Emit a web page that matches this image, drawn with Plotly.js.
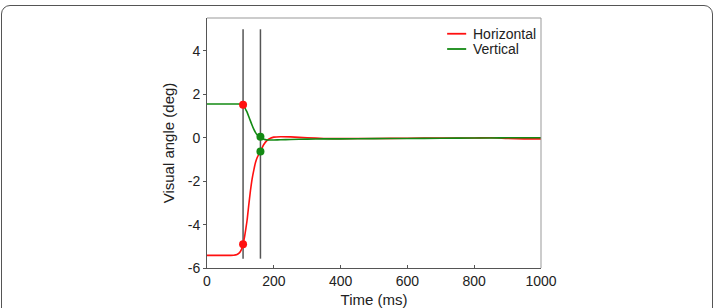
<!DOCTYPE html>
<html>
<head>
<meta charset="utf-8">
<script src="https://cdn.plot.ly/plotly-3.0.1.min.js"></script>
<style>
html,body{margin:0;padding:0;background:#fff;overflow:hidden;}
#wrap{position:relative;width:723px;height:308px;}
#chart{position:absolute;left:0;top:0;width:723px;height:308px;}
#frame{position:absolute;left:1px;top:5px;width:712px;height:330px;border:1px solid #555;border-radius:9px;pointer-events:none;box-sizing:border-box;}
</style>
</head>
<body>
<div id="wrap"><div id="chart"></div><div id="frame"></div></div>
<script>
// Time samples (ms)
var timeMs = [0, 50, 80, 90, 95, 100, 105, 108, 112, 116, 120, 125, 130, 135, 140, 145, 150, 155, 160, 165, 170, 180, 190, 200, 220, 250, 300, 350, 400, 500, 600, 700, 800, 850, 900, 950, 1000];
// Horizontal eye position (deg)
var horizontal = [-5.42, -5.42, -5.41, -5.38, -5.33, -5.24, -5.08, -4.9, -4.6, -4.22, -3.8, -3.1, -2.45, -1.9, -1.5, -1.15, -0.92, -0.76, -0.63, -0.46, -0.31, -0.12, -0.02, 0.03, 0.05, 0.04, 0.0, -0.03, -0.04, -0.03, -0.02, -0.01, -0.01, 0.0, -0.03, -0.05, -0.05];
// Vertical eye position (deg)
var vertical = [1.56, 1.56, 1.56, 1.56, 1.56, 1.55, 1.54, 1.52, 1.42, 1.3, 1.18, 0.98, 0.78, 0.58, 0.4, 0.25, 0.14, 0.08, 0.05, -0.03, -0.07, -0.1, -0.1, -0.1, -0.09, -0.08, -0.06, -0.05, -0.05, -0.04, -0.03, -0.02, -0.01, -0.01, 0.0, 0.0, 0.0];
// Saccade onset / offset markers
var eventTimes = [108, 160];
var onsetValues = [1.52, -4.9];   // vertical, horizontal at onset
var offsetValues = [0.05, -0.63]; // vertical, horizontal at offset
var cursorSpan = [-5.57, 5.0];
var xTicks = [0, 200, 400, 600, 800, 1000];
var yTicks = [-6, -4, -2, 0, 2, 4];
var seriesNames = ['Horizontal', 'Vertical'];

var red = '#ff1010', green = '#138a13';
var colors = [red, green];
var traces = [];
eventTimes.forEach(function(t){
  traces.push({x:[t,t], y:cursorSpan, mode:'lines', line:{color:'#555', width:1.5}, showlegend:false, hoverinfo:'skip'});
});
traces.push({x:timeMs, y:horizontal, name:seriesNames[0], mode:'lines', line:{color:red, width:1.6, shape:'spline', smoothing:0.6}});
traces.push({x:timeMs, y:vertical, name:seriesNames[1], mode:'lines', line:{color:green, width:1.6, shape:'spline', smoothing:0.6}});
traces.push({x:[eventTimes[0], eventTimes[0]], y:onsetValues, mode:'markers', marker:{color:red, size:8}, showlegend:false});
traces.push({x:[eventTimes[1], eventTimes[1]], y:offsetValues, mode:'markers', marker:{color:green, size:8}, showlegend:false});

// manual legend (paper coordinates)
var legShapes = [], legAnn = [];
var rowY = [0.937, 0.876];
seriesNames.forEach(function(n, i){
  legShapes.push({type:'line', xref:'paper', yref:'paper', x0:0.719, x1:0.776, y0:rowY[i], y1:rowY[i], line:{color:colors[i], width:1.8}});
  legAnn.push({xref:'paper', yref:'paper', x:0.789, y:rowY[i], xanchor:'left', yanchor:'middle', text:n, showarrow:false, font:{size:14, color:'#222'}});
});

var font = {family:'"Liberation Sans", Arial, sans-serif', color:'#222'};
var layout = {
  width:723, height:308,
  margin:{l:207, r:182, t:18, b:40, pad:0},
  paper_bgcolor:'rgba(0,0,0,0)', plot_bgcolor:'#fff',
  font:Object.assign({size:14}, font),
  showlegend:false,
  xaxis:{range:[0,1000], tickvals:xTicks, ticktext:xTicks.map(String), ticks:'inside', ticklen:3, tickcolor:'#555',
    showline:true, linecolor:'#555', linewidth:1, mirror:false, showgrid:false, zeroline:false,
    tickfont:{size:14, color:'#222'},
    title:{text:'Time (ms)', font:{size:15, color:'#222'}, standoff:9}},
  yaxis:{range:[-6,5.52], tickvals:yTicks, ticktext:yTicks.map(String), ticks:'outside', ticklen:3, tickcolor:'#555',
    showline:true, linecolor:'#555', linewidth:1, mirror:false, showgrid:false, zeroline:false,
    tickfont:{size:14, color:'#222'},
    title:{text:'Visual angle (deg)', font:{size:15, color:'#222'}, standoff:9}},
  shapes:[
    {type:'line', xref:'paper', yref:'paper', x0:0, x1:1, y0:1, y1:1, line:{color:'#999', width:1}},
    {type:'line', xref:'paper', yref:'paper', x0:1, x1:1, y0:0, y1:1, line:{color:'#999', width:1}}
  ].concat(legShapes),
  annotations:legAnn
};
Plotly.newPlot('chart', traces, layout, {displayModeBar:false, staticPlot:true});
</script>
</body>
</html>
